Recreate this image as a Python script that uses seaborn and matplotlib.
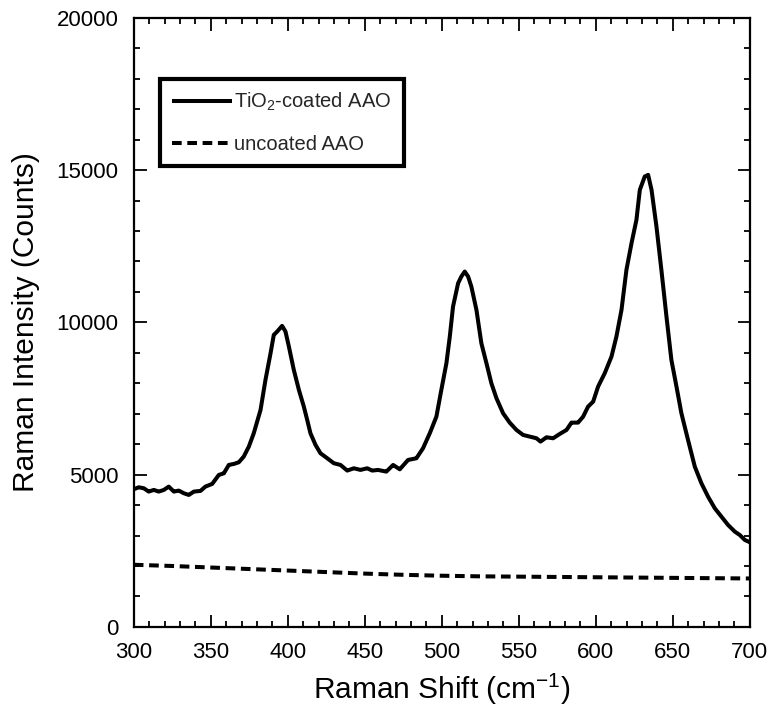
import matplotlib
matplotlib.use("Agg")
import matplotlib.pyplot as plt
import seaborn as sns
import pandas as pd
from matplotlib.ticker import MultipleLocator

# ---- data ----
coated_shift = [300, 303.2, 306.5, 309.7, 313, 316.2, 319.5, 322.7, 326, 329.2, 332.5, 335.7, 339, 343.3,
                346.5, 350.9, 355.2, 358.5, 361.7, 365, 368.2, 371.4, 374.7, 377.9, 382.3, 385.5, 388.8,
                390.9, 393.1, 396.3, 398.5, 400.7, 403.9, 407.2, 410.4, 412.6, 414.7, 418, 421.2, 425.6,
                429.9, 434.2, 438.6, 442.9, 447.2, 451.6, 454.8, 458.6, 464, 468.4, 472.7, 478.1, 483.5,
                487.8, 492.2, 496.5, 499.7, 503, 505.2, 507.3, 510.6, 512.7, 514.9, 517.1, 519.2, 522.5,
                525.7, 529, 532.2, 535.5, 539.8, 544.1, 548.5, 552.8, 557.1, 561.5, 564.1, 568, 572.3,
                576.6, 581, 584.2, 588.5, 591.8, 595, 598.3, 601.5, 605.8, 610.2, 613.4, 616.7, 619.9,
                623.2, 626.4, 628.6, 631.8, 634, 636.2, 639.4, 642.6, 645.9, 649.1, 652.4, 655.6, 659.9,
                664.3, 668.6, 672.9, 677.3, 681.6, 685.9, 690.3, 693.5, 696.8, 700]
coated_counts = [4520, 4585, 4552, 4443, 4498, 4443, 4498, 4607, 4443, 4476, 4388, 4333, 4443, 4465,
                 4607, 4695, 4990, 5045, 5319, 5352, 5406, 5593, 5921, 6359, 7125, 8111, 8987,
                 9589, 9699, 9885, 9699, 9206, 8440, 7783, 7235, 6797, 6359, 5976, 5702, 5538,
                 5374, 5319, 5133, 5209, 5155, 5209, 5133, 5154, 5099, 5318, 5175, 5482, 5537,
                 5865, 6358, 6906, 7782, 8658, 9534, 10519, 11286, 11505, 11669, 11505, 11176, 10409,
                 9314, 8658, 8000, 7508, 7015, 6708, 6467, 6303, 6249, 6194, 6084, 6227, 6194,
                 6336, 6467, 6708, 6708, 6906, 7234, 7398, 7891, 8329, 8876, 9534, 10410, 11723,
                 12600, 13366, 14352, 14790, 14844, 14352, 13147, 11723, 10190, 8767, 7891, 7015, 6139,
                 5263, 4716, 4278, 3894, 3620, 3347, 3128, 3018, 2854, 2780]
uncoated_shift = [300, 325, 350, 375, 400, 425, 450, 475, 500, 525, 550, 575, 600, 625, 650, 675, 700]
uncoated_counts = [2040, 2000, 1950, 1900, 1850, 1800, 1750, 1710, 1680, 1660, 1650, 1640, 1630, 1620, 1610, 1600, 1590]

label_coated = r"TiO$_2$-coated AAO"
label_uncoated = "uncoated AAO"
x_ticks = [300, 350, 400, 450, 500, 550, 600, 650, 700]
y_ticks = [0, 5000, 10000, 15000, 20000]

df = pd.concat([
    pd.DataFrame({"shift": coated_shift, "counts": coated_counts, "sample": label_coated}),
    pd.DataFrame({"shift": uncoated_shift, "counts": uncoated_counts, "sample": label_uncoated}),
])

sns.set_style("ticks")
plt.rcParams["font.family"] = ["Liberation Sans", "DejaVu Sans"]
plt.rcParams["mathtext.default"] = "regular"

fig = plt.figure(figsize=(7.69, 7.14), dpi=100)
ax = fig.add_axes([0.174, 0.122, 0.801, 0.853])

sns.lineplot(data=df, x="shift", y="counts", hue="sample", style="sample",
             palette=["black", "black"], dashes=[(1, 0), (2.4, 1.4)],
             linewidth=2.9, ax=ax, sort=False)

ax.set_xlim(300, 700)
ax.set_ylim(0, 20000)
ax.set_xticks(x_ticks)
ax.set_yticks(y_ticks)
ax.xaxis.set_minor_locator(MultipleLocator(10))
ax.yaxis.set_minor_locator(MultipleLocator(1000))
ax.tick_params(which="both", direction="in", top=True, right=True, labelsize=16, width=1.3,
               color="black", labelcolor="black")
ax.tick_params(which="major", length=9)
ax.tick_params(which="minor", length=4.5)
ax.tick_params(axis="x", which="major", pad=11)
ax.tick_params(axis="y", which="major", pad=11)
for s in ax.spines.values():
    s.set_linewidth(1.6)
    s.set_color("black")

ax.set_xlabel(r"Raman Shift (cm$^{-1}$)", fontsize=21.5, labelpad=6, color="black")
ax.set_ylabel("Raman Intensity (Counts)", fontsize=21.5, labelpad=12, color="black")

leg = ax.legend(loc="upper left", bbox_to_anchor=(0.042, 0.9), borderaxespad=0,
                fontsize=14.5, frameon=True, fancybox=False, edgecolor="black",
                handlelength=3.0, handletextpad=0.1, labelspacing=1.1,
                borderpad=0.6, title=None)
leg.get_frame().set_linewidth(3.0)
leg.get_frame().set_alpha(1)

fig.savefig("out.png", dpi=100)
